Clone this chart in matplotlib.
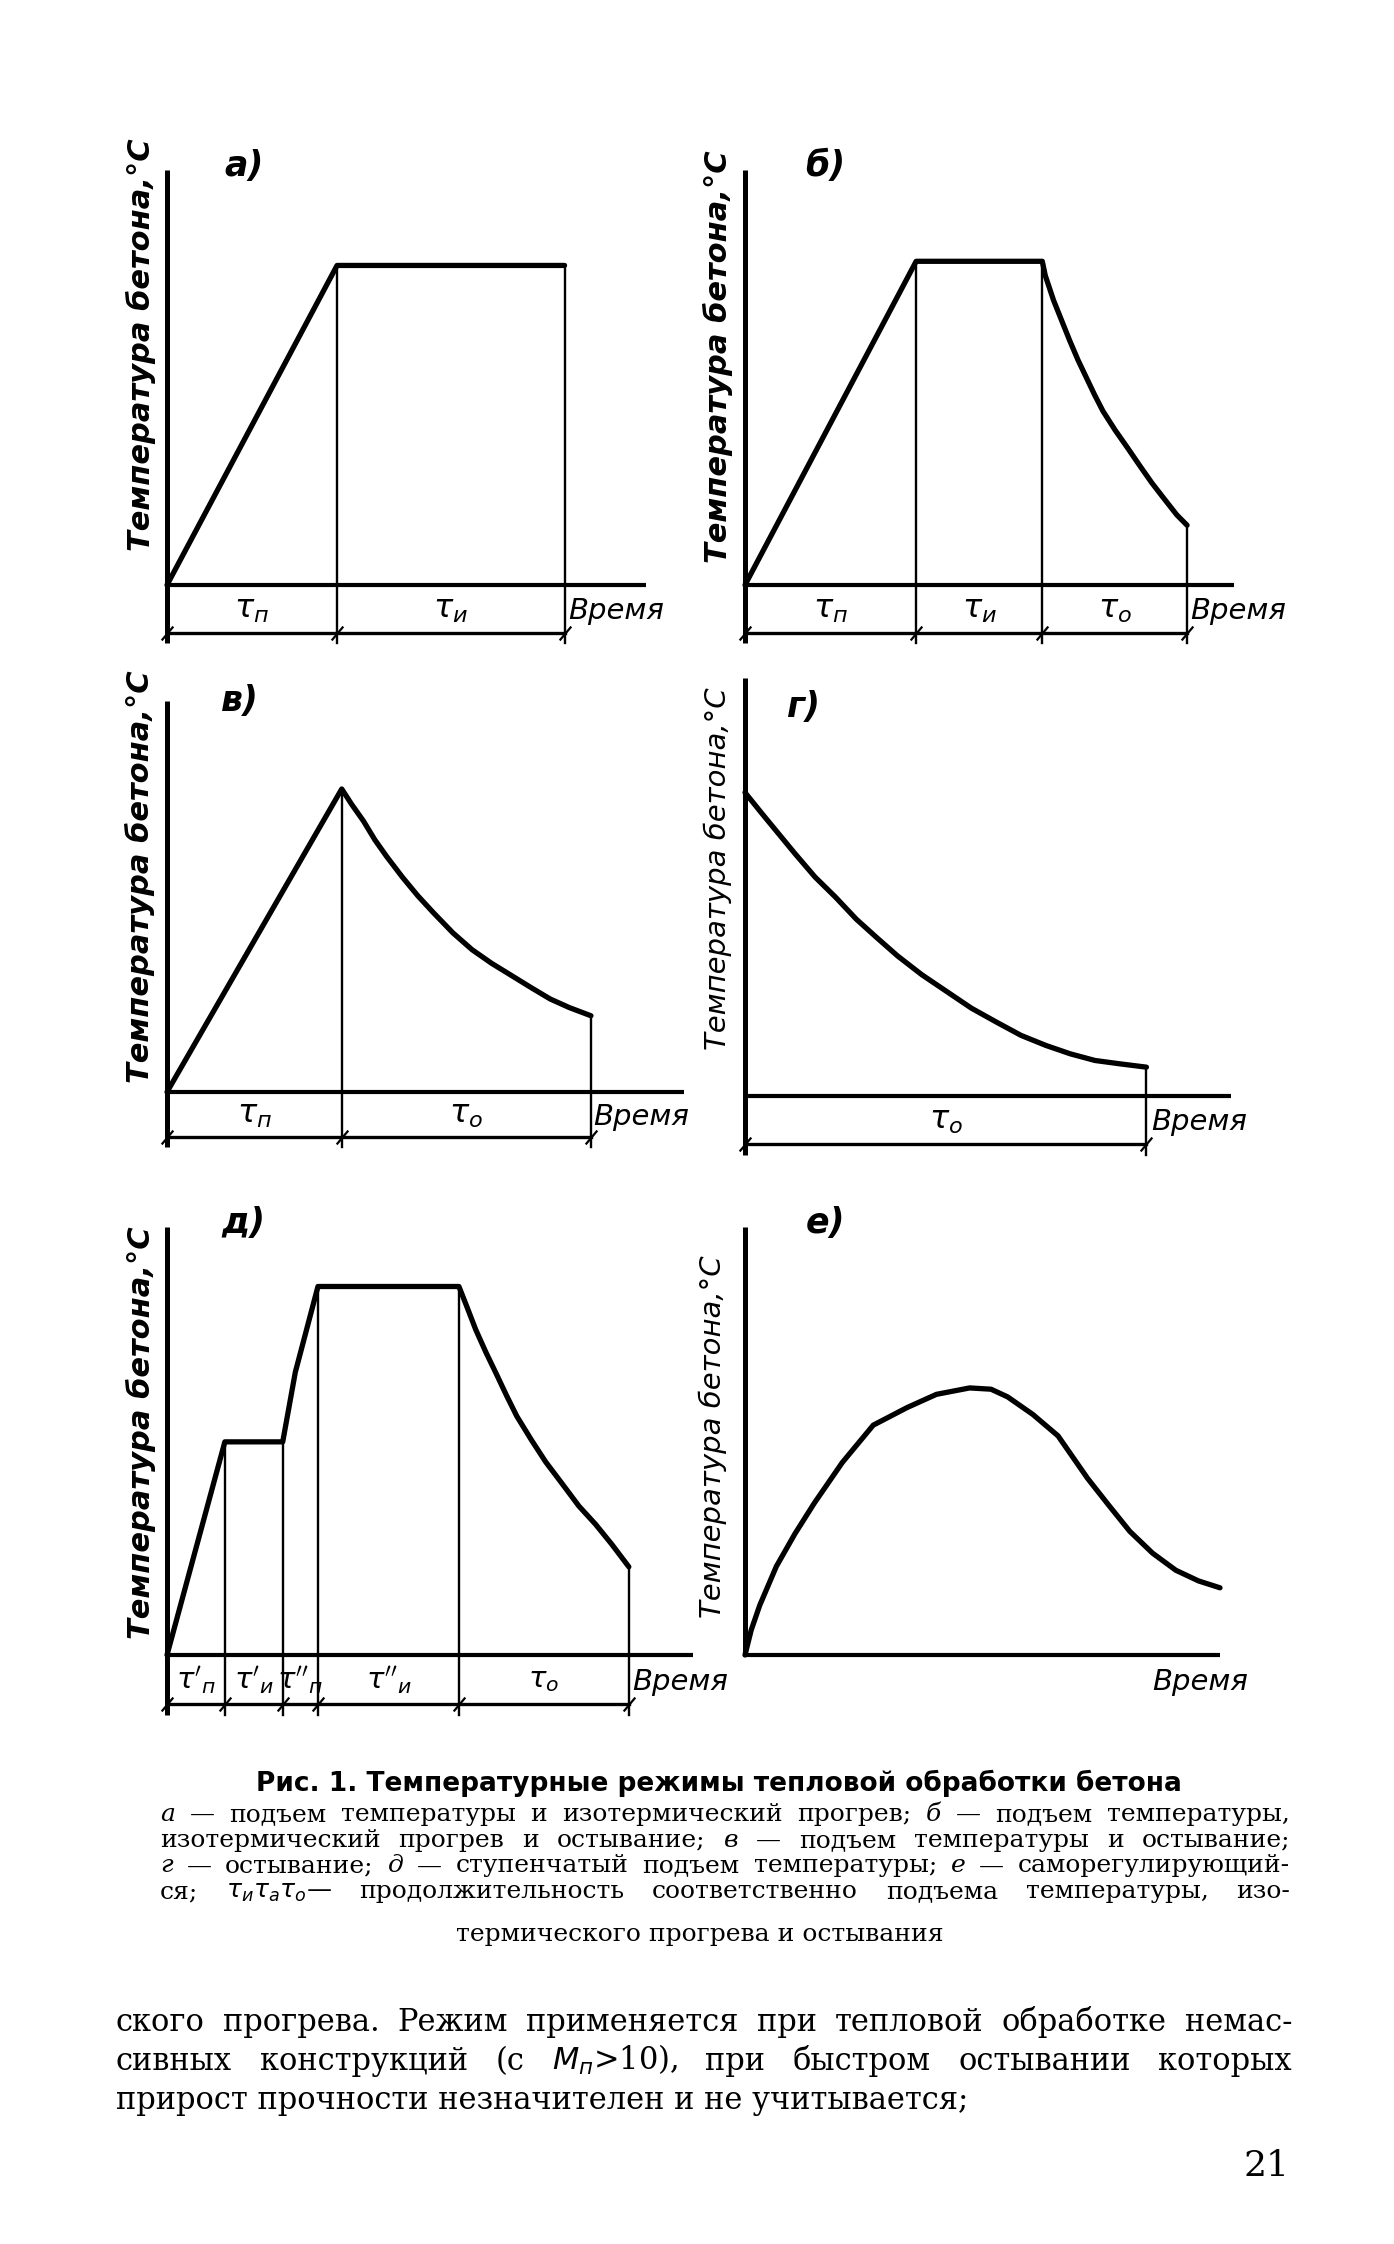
import numpy as np
import matplotlib
matplotlib.use('Agg')
import matplotlib.pyplot as plt

plt.rcParams['mathtext.fontset'] = 'dejavusans'

W, H = 1394, 2244

# values, in percent of each panel's axes
# (time 0..100 along the x axis, temperature 0..100 up the y axis)
a_time = [0, 35.5, 83.0]
a_temp = [0, 77, 77]
a_bounds = [0, 35.5, 83.0]
a_marks = [r'$\tau_п$', r'$\tau_и$']

b_time = [0, 35.0, 60.8, 61.4, 63.1, 64.8, 66.4, 68.1, 69.8, 71.5, 73.2, 75.7,
          78.2, 80.7, 83.2, 85.7, 88.3, 90.4]
b_temp = [0, 78, 78, 74.6, 68.6, 63.6, 58.9, 54.2, 50.0, 45.8, 41.9, 37.3,
          33.1, 28.8, 24.6, 20.8, 16.9, 14.4]
b_bounds = [0, 35.0, 60.8, 90.4]
b_marks = [r'$\tau_п$', r'$\tau_и$', r'$\tau_о$']

v_time = [0, 33.8, 35.7, 38.0, 40.2, 42.5, 45.5, 48.5, 51.5, 55.3, 59.0, 62.8,
          66.5, 70.3, 74.1, 77.8, 82.0]
v_temp = [0, 77.5, 73.6, 69.3, 64.5, 60.2, 55.0, 50.2, 45.9, 40.7, 36.4, 32.9,
          29.9, 26.8, 23.8, 21.6, 19.5]
v_bounds = [0, 33.8, 82.0]
v_marks = [r'$\tau_п$', r'$\tau_о$']

g_time = [0, 3.4, 6.8, 10.2, 14.4, 18.6, 22.9, 27.1, 31.4, 36.4, 41.5, 46.6,
          51.7, 56.8, 61.9, 66.9, 72.0, 77.1, 82.6]
g_temp = [72.6, 67.7, 62.9, 58.1, 52.4, 47.6, 42.3, 37.9, 33.5, 29.0, 25.0, 21.0,
          17.7, 14.5, 12.1, 10.1, 8.5, 7.7, 6.9]
g_bounds = [0, 82.6]
g_marks = [r'$\tau_о$']

d_time = [0, 11.0, 22.0, 24.4, 28.7, 55.5, 57.1, 58.7, 60.6, 62.6, 64.6, 66.5,
          69.3, 72.0, 75.2, 78.3, 81.5, 84.6, 87.8]
d_temp = [0, 49.8, 49.8, 66.1, 86.1, 86.1, 81.1, 76.0, 70.8, 65.7, 60.5, 55.8,
          50.2, 45.1, 39.9, 34.8, 30.5, 25.8, 20.6]
d_bounds = [0, 11.0, 22.0, 28.7, 55.5, 87.8]
d_marks = [r"$\tau'_п$", r"$\tau'_и$", r"$\tau''_п$", r"$\tau''_и$", r'$\tau_о$']

e_time = [0, 1.3, 3.1, 6.6, 10.5, 14.6, 20.5, 27.0, 34.1, 40.3, 47.3, 51.8,
          55.3, 60.6, 65.9, 72.1, 76.5, 81.0, 85.8, 90.7, 95.5, 100]
e_temp = [0, 5.8, 11.6, 20.7, 28.3, 35.5, 45.0, 53.7, 57.8, 60.9, 62.4, 62.1,
          60.3, 56.2, 51.2, 41.3, 35.1, 28.9, 23.8, 19.8, 17.3, 15.7]

ylab = 'Температура бетона,°С'
xlab = 'Время'

title = 'Рис. 1. Температурные режимы тепловой обработки бетона'
caption = [
    '*а — подъем температуры и изотермический прогрев; *б — подъем температуры,',
    'изотермический прогрев и остывание; *в — подъем температуры и остывание;',
    '*г — остывание; *д — ступенчатый подъем температуры; *е — саморегулирующий-',
    'ся; $\\tau_и\\tau_а\\tau_о$— продолжительность соответственно подъема температуры, изо-',
]
caption_last = 'термического прогрева и остывания'
body = [
    'ского прогрева. Режим применяется при тепловой обработке немас-',
    'сивных конструкций (с $M_п$>10), при быстром остывании которых',
]
body_last = 'прирост прочности незначителен и не учитывается;'
page_no = '21'

fig = plt.figure(figsize=(W / 100, H / 100), dpi=100)
fig.patch.set_facecolor('white')


def draw_panel(box, time, temp, bounds, marks, letter, letter_xy, lab_xy, bold, xlab_pos,
               mark_size=23):
    left, right, top, bottom = box
    ax = fig.add_axes([left / W, 1 - bottom / H, (right - left) / W, (bottom - top) / H])
    ax.set_xlim(0, 100)
    ax.set_ylim(0, 100)
    ax.axis('off')
    low = -14 if bounds else 0
    ax.plot([0, 100], [0, 0], color='k', lw=3.0, solid_capstyle='butt', clip_on=False)
    ax.plot([0, 0], [low, 100], color='k', lw=3.6, solid_capstyle='butt', clip_on=False)
    ax.plot(time, temp, color='k', lw=3.8, solid_joinstyle='round',
            solid_capstyle='round', clip_on=False)
    if bounds:
        for b in bounds[1:]:
            ax.plot([b, b], [np.interp(b, time, temp), low], color='k', lw=1.7, clip_on=False)
        ax.plot([bounds[0], bounds[-1]], [-11.5, -11.5], color='k', lw=2.4, clip_on=False)
        ax.plot(bounds, [-11.5] * len(bounds), ls='none', marker=(2, 0, -40), ms=13,
                mew=1.6, color='k', clip_on=False)
        for x0, x1, m in zip(bounds[:-1], bounds[1:], marks):
            ax.text((x0 + x1) / 2, -5.8, m, ha='center', va='center', fontsize=mark_size,
                    color='k', clip_on=False)
    ax.text(letter_xy[0], letter_xy[1], letter, ha='center', va='center', fontsize=25,
            style='italic', weight='bold', clip_on=False)
    ax.text(lab_xy[0], lab_xy[1], ylab, rotation=90, ha='center', va='center',
            fontsize=22 if bold else 21, style='italic',
            weight='bold' if bold else 'normal', clip_on=False)
    ax.text(xlab_pos[0], -6.3, xlab, ha=xlab_pos[1], va='center', fontsize=21,
            style='italic', clip_on=False)
    return ax


draw_panel((167, 646, 170, 585), a_time, a_temp, a_bounds, a_marks, 'а)', (16, 101),
           (-5.5, 58), True, (83.8, 'left'))
draw_panel((745, 1234, 170, 585), b_time, b_temp, b_bounds, b_marks, 'б)', (16.5, 101),
           (-5.6, 55), True, (91.0, 'left'))
draw_panel((167, 684, 701, 1092), v_time, v_temp, v_bounds, v_marks, 'в)', (14, 100),
           (-5.3, 55), True, (82.5, 'left'))
draw_panel((745, 1231, 678, 1096), g_time, g_temp, g_bounds, g_marks, 'г)', (12, 93),
           (-5.7, 54.5), False, (83.5, 'left'))
draw_panel((167, 693, 1227, 1655), d_time, d_temp, d_bounds, d_marks, 'д)', (14.6, 101),
           (-5.0, 52), True, (88.5, 'left'), mark_size=21)
draw_panel((745, 1220, 1227, 1655), e_time, e_temp, [], [], 'е)', (17, 101),
           (-6.7, 51), False, (106, 'right'))

renderer = fig.canvas.get_renderer()


def justified(line, x0, x1, base, size, family):
    arts = []
    for w in line.split(' '):
        style = 'italic' if w.startswith('*') else 'normal'
        t = fig.text(0, 1 - base / H, w.lstrip('*'), fontsize=size, family=family,
                     style=style, va='baseline', ha='left')
        arts.append(t)
    widths = [t.get_window_extent(renderer).width for t in arts]
    gap = ((x1 - x0) - sum(widths)) / (len(arts) - 1)
    x = x0
    for t, wd in zip(arts, widths):
        t.set_x(x / W)
        x += wd + gap


serif = 'DejaVu Serif'
fig.text(719 / W, 1 - 1791 / H, title, ha='center', va='baseline', fontsize=19,
         weight='bold', family='DejaVu Sans')
for i, line in enumerate(caption):
    justified(line, 160, 1290, 1821 + i * 25.7, 18, serif)
fig.text(700 / W, 1 - 1941 / H, caption_last, ha='center', va='baseline', fontsize=18,
         family=serif)
for i, line in enumerate(body):
    justified(line, 116, 1292, 2031 + i * 39, 22, serif)
fig.text(116 / W, 1 - 2109 / H, body_last, ha='left', va='baseline', fontsize=22,
         family=serif)
fig.text(1290 / W, 1 - 2176 / H, page_no, ha='right', va='baseline', fontsize=26,
         family=serif)

fig.savefig('out.png', dpi=100, facecolor='white')
